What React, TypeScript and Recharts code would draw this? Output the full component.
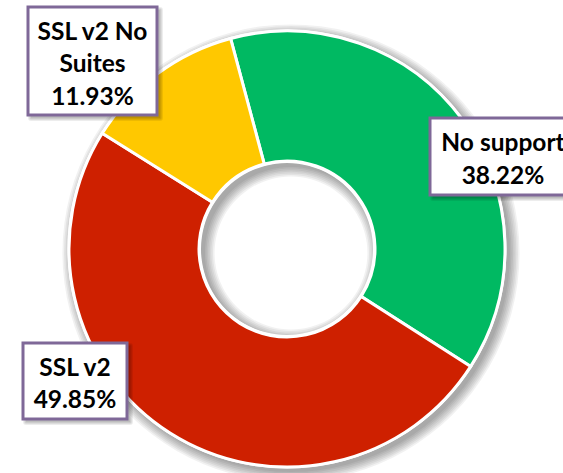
import React from 'react';
import { PieChart, Pie, Cell } from 'recharts';

const categories = ['No support', 'SSL v2', 'SSL v2 No Suites'];
const shares = [38.22, 49.85, 11.93];
const labelNames = [['No support'], ['SSL v2'], ['SSL v2 No', 'Suites']];
const sliceColors = ['#00B962', '#CE2000', '#FFC800'];

const data = categories.map((name, i) => ({ name, value: shares[i] }));
const ringData = [{ name: 'ring', value: 1 }];

// layout of the label boxes, relative to the pie centre
const labelBoxes = [
  { dx: 216, dy: -92.5, w: 146, h: 77 },
  { dx: -212, dy: 132, w: 104, h: 76 },
  { dx: -194.5, dy: -188, w: 129, h: 108 },
];

const CX = 287;
const CY = 249;
const INNER = 88;
const OUTER = 218;
const SHADOW_OFFSET = 4;
const shadowSteps = [0, 1, 2, 3, 4, 5, 6];
const boxShadowSteps = [0, 1, 2, 3];

const renderLabel = (props: any) => {
  const { cx, cy, index } = props;
  const box = labelBoxes[index];
  const x = (cx ?? CX) + box.dx;
  const y = (cy ?? CY) + box.dy;
  const lines = [...labelNames[index], `${shares[index].toFixed(2)}%`];
  const left = x - box.w / 2;
  const top = y - box.h / 2;
  return (
    <g key={`lbl-${index}`}>
      {boxShadowSteps.map((k) => (
        <rect
          key={`s${k}`}
          x={left + 3 - k}
          y={top + 3 - k}
          width={box.w + 2 * k}
          height={box.h + 2 * k}
          rx={k}
          fill="#000"
          fillOpacity={0.07}
        />
      ))}
      <rect x={left} y={top} width={box.w} height={box.h} fill="#fff" stroke="#7F6898" strokeWidth={3} />
      {lines.map((t, i) => (
        <text
          key={i}
          x={x}
          y={y + (i - (lines.length - 1) / 2) * 32.5 + 11}
          textAnchor="middle"
          fontFamily="Lato, 'Open Sans', sans-serif"
          fontWeight={700}
          fontSize={24.5}
          fill="#000"
        >
          {t}
        </text>
      ))}
    </g>
  );
};

export default function App() {
  return (
    <div style={{ position: 'absolute', left: 0, top: 0, width: 563, height: 473, background: '#fff', overflow: 'hidden' }}>
      <PieChart width={563} height={473} margin={{ top: 0, right: 0, bottom: 0, left: 0 }}>
        {/* soft shadow of the ring, built from stacked translucent rings */}
        {shadowSteps.map((k) => (
          <Pie
            key={`sh${k}`}
            data={ringData}
            dataKey="value"
            cx={CX + SHADOW_OFFSET}
            cy={CY + SHADOW_OFFSET}
            innerRadius={INNER - 2 - k * 1.6}
            outerRadius={OUTER + 1 + k * 1.6}
            startAngle={90}
            endAngle={-270}
            stroke="none"
            fill="#000"
            fillOpacity={0.055}
            isAnimationActive={false}
            label={false}
            labelLine={false}
          >
            <Cell fill="#000" fillOpacity={0.055} stroke="none" />
          </Pie>
        ))}
        {/* white base ring */}
        <Pie
          data={ringData}
          dataKey="value"
          cx={CX}
          cy={CY}
          innerRadius={INNER - 2}
          outerRadius={OUTER + 1.5}
          startAngle={90}
          endAngle={-270}
          stroke="none"
          isAnimationActive={false}
          label={false}
          labelLine={false}
        >
          <Cell fill="#fff" stroke="none" />
        </Pie>
        <Pie
          data={data}
          dataKey="value"
          nameKey="name"
          cx={CX}
          cy={CY}
          innerRadius={INNER}
          outerRadius={OUTER}
          startAngle={105}
          endAngle={-255}
          stroke="#fff"
          strokeWidth={3}
          isAnimationActive={false}
          label={false}
          labelLine={false}
        >
          {data.map((d, i) => (
            <Cell key={d.name} fill={sliceColors[i]} />
          ))}
        </Pie>
        <Pie
          data={data}
          dataKey="value"
          nameKey="name"
          cx={CX}
          cy={CY}
          innerRadius={INNER}
          outerRadius={OUTER}
          startAngle={105}
          endAngle={-255}
          fill="none"
          stroke="none"
          isAnimationActive={false}
          label={renderLabel}
          labelLine={false}
        >
          {data.map((d) => (
            <Cell key={d.name} fill="none" stroke="none" />
          ))}
        </Pie>
      </PieChart>
    </div>
  );
}
